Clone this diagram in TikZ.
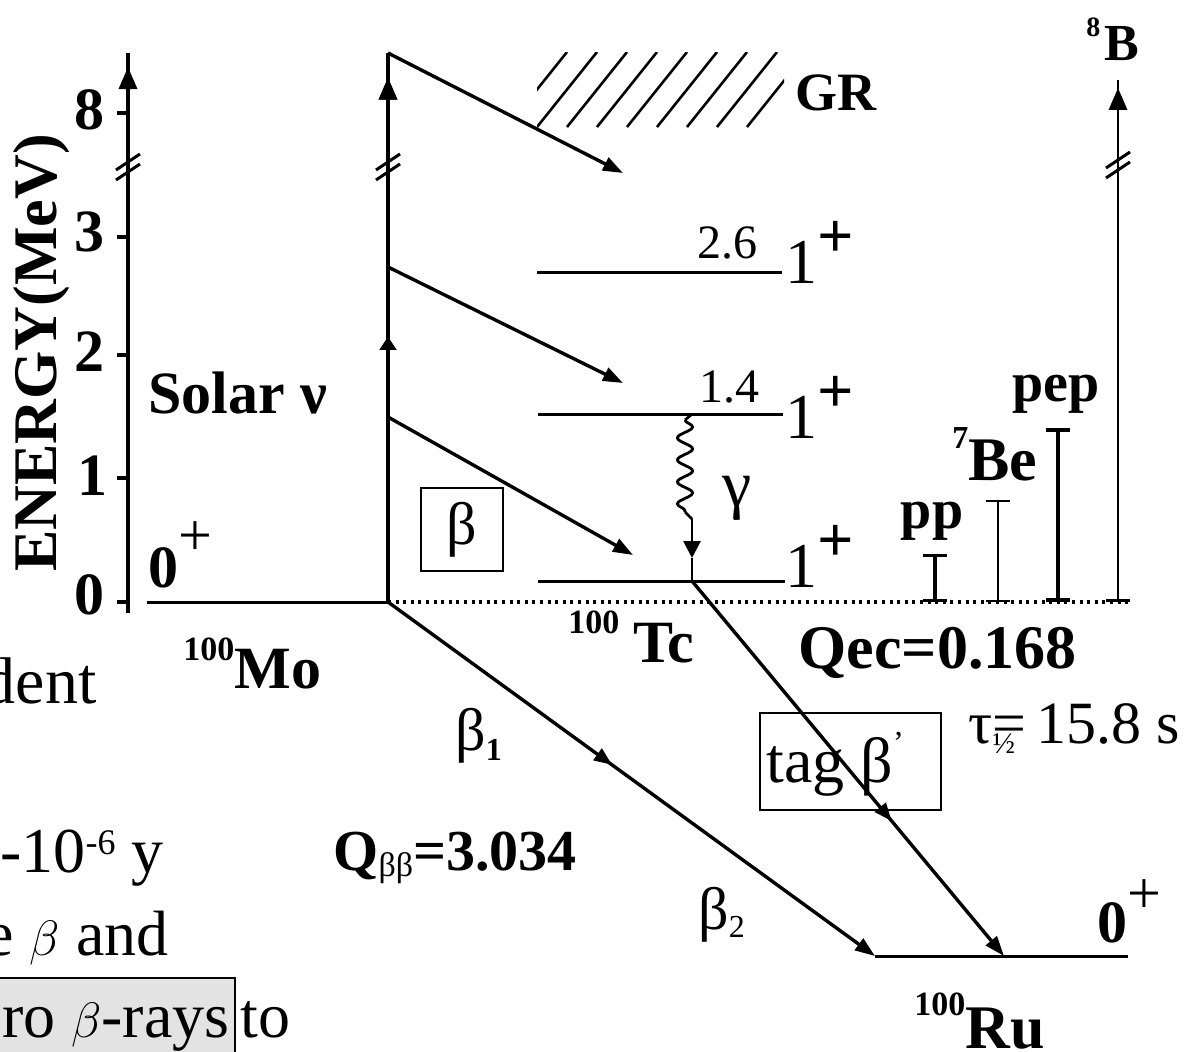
\documentclass[tikz,border=0pt]{standalone}
\usepackage{fontspec}
\setmainfont{Liberation Serif}
\usetikzlibrary{arrows.meta,decorations.markings,decorations.pathmorphing}
\newcommand{\myfs}[1]{\fontsize{#1}{#1}\selectfont}
\begin{document}
\begin{tikzpicture}[x=0.5pt,y=-0.5pt,
  axisln/.style={line width=1.7pt},
  lvl/.style={line width=1.5pt},
  dline/.style={line width=1.7pt},
  dtip/.style={-{Triangle[length=10pt,width=7pt]}},
  midarrow/.style={postaction={decorate},decoration={markings,mark=at position #1 with {\arrow{Triangle[length=9pt,width=7pt]}}}},
  uparrow/.style={postaction={decorate},decoration={markings,mark=at position #1 with {\arrow{Triangle[length=11pt,width=9pt]}}}},
  smallup/.style={postaction={decorate},decoration={markings,mark=at position #1 with {\arrow{Triangle[length=6.5pt,width=8pt]}}}},
  brk/.style={line width=1.5pt},
  bar/.style={{Bar[width=12pt]}-{Bar[width=12pt]}},
  bf/.style={inner sep=0pt,font=\myfs{30}\bfseries},
  rm/.style={inner sep=0pt,font=\myfs{30}},
  boxed/.style={draw,line width=0.9pt,inner sep=0pt}
]
\useasboundingbox (0,0) rectangle (1198,1051);
\clip (0,0) rectangle (1198,1051);

% ---------- coordinates ----------
\coordinate (axB) at (128,613);  \coordinate (axT) at (128,53);
\coordinate (mvB) at (388,602);  \coordinate (mvT) at (388,53);
\coordinate (mo0) at (147,602);  \coordinate (dotE) at (1132,602);
\coordinate (gre) at (623,173);
\coordinate (a2s) at (388,267);  \coordinate (a2e) at (623,383);
\coordinate (a3s) at (388,417);  \coordinate (a3e) at (633,555);
\coordinate (t26L) at (537,272); \coordinate (t26R) at (782,272);
\coordinate (t14L) at (538,414); \coordinate (t14R) at (783,414);
\coordinate (t0L) at (538,581);  \coordinate (t0R) at (785,581);
\coordinate (g1) at (692,414);   \coordinate (g0) at (692,581);
\coordinate (g1w) at (685,420);  \coordinate (g2w) at (685,512);
\coordinate (g2) at (692,519);   \coordinate (g3) at (692,558);
\coordinate (ruL) at (875,956);  \coordinate (ruR) at (1128,956);
\coordinate (tcru) at (1004,956);
\coordinate (ppB) at (935,602);  \coordinate (ppT) at (935,554);
\coordinate (beB) at (998,602);  \coordinate (beT) at (998,500);
\coordinate (pepB) at (1058,602);\coordinate (pepT) at (1058,428);
\coordinate (bB) at (1118,602);  \coordinate (bT) at (1118,80);

% ---------- GR hatching ----------
\begin{scope}
  \clip (537,52) rectangle (784,127);
  \foreach \k in {-1,...,7}
    \draw[line width=1.3pt] ({537+30*\k},127) -- ({597+30*\k},52);
\end{scope}

% ---------- left axis ----------
\draw[axisln,uparrow=0.975] (axB) -- (axT);
\foreach \yy in {113,237,355,478,602}
  \draw[axisln] (117,\yy) -- (128,\yy);
\foreach \xx/\yy in {128/167,388/167,1118/165}{
  \draw[brk] (\xx-12,\yy+3) -- (\xx+12,\yy-13);
  \draw[brk] (\xx-12,\yy+13) -- (\xx+12,\yy-3);
}

% ---------- main vertical ----------
\draw[axisln,smallup=0.483,uparrow=0.955] (mvB) -- (mvT);
\draw[lvl] (mo0) -- (mvB);
\draw[line width=1.6pt,dash pattern=on 1.5pt off 2.3pt] (mvB) -- (dotE);

% ---------- beta arrows to Tc ----------
\draw[dline,dtip] (mvT) -- (gre);
\draw[dline,dtip] (a2s) -- (a2e);
\draw[dline,dtip] (a3s) -- (a3e);

% ---------- Tc levels ----------
\draw[lvl] (t26L) -- (t26R);
\draw[lvl] (t14L) -- (t14R);
\draw[lvl] (t0L) -- (t0R);

% gamma
\draw[line width=1.4pt] (g1) -- (g1w);
\draw[line width=1.4pt,decorate,decoration={snake,amplitude=3.8pt,segment length=11pt}] (g1w) -- (g2w);
\draw[line width=1.4pt] (g2w) -- (g2);
\draw[line width=1.4pt,-{Triangle[length=8.5pt,width=8.5pt]}] (g2) -- (g3);
\draw[line width=1.4pt] (g3) -- (g0);

% ---------- to Ru ----------
\draw[dline,midarrow=0.46,dtip] (mvB) -- (ruL);
\draw[dline,midarrow=0.64,dtip] (g0) -- (tcru);
\draw[lvl] (ruL) -- (ruR);

% ---------- solar neutrino bars ----------
\draw[line width=1.7pt,bar] (ppB) -- (ppT);
\draw[line width=1.2pt,bar] (beB) -- (beT);
\draw[line width=1.9pt,bar] (pepB) -- (pepT);
\draw[line width=1.4pt,{Bar[width=12pt]}-,uparrow=0.985] (bB) -- (bT);

% ---------- boxes ----------
\node[boxed,minimum width=41pt,minimum height=41.5pt,font=\myfs{30}] (bbox) at (462,529.5) {β};
\node[boxed,minimum width=90.5pt,minimum height=48.5pt] (tagbox) at (850.5,761.5) {};
\node[anchor=base west,inner sep=0pt,font=\myfs{32}] (tagt) at (766,782) {tag β\raisebox{0.45em}{\myfs{16}’}};

% ---------- axis labels ----------
\node[bf,rotate=90,font=\myfs{31}\bfseries] (energy) at (42,353) {ENERGY(MeV)};
\node[bf] (n8) at (89,110) {8};
\node[bf] (n3) at (89,232) {3};
\node[bf] (n2) at (89,352) {2};
\node[bf] (n1) at (92,476) {1};
\node[bf] (n0) at (89,595) {0};

% ---------- Mo ----------
\node[bf,anchor=base west] (mospin) at (148,587) {0\raisebox{0.52em}{\mdseries +}};
\node[anchor=base west,inner sep=0pt] (mo) at (183,688) {{\myfs{17}\bfseries\raisebox{14pt}{100}}{\myfs{30}\bfseries Mo}};
\node[bf,anchor=base west] (solar) at (148,413) {Solar ν};

% ---------- Tc ----------
\node[inner sep=0pt,font=\myfs{24}] (e26) at (727,243) {2.6};
\node[inner sep=0pt,font=\myfs{24}] (e14) at (729,387) {1.4};
\node[anchor=base west,inner sep=0pt,font=\myfs{32}] (j26) at (785,283) {1\raisebox{0.4em}{\bfseries +}};
\node[anchor=base west,inner sep=0pt,font=\myfs{32}] (j14) at (785,438) {1\raisebox{0.4em}{\bfseries +}};
\node[anchor=base west,inner sep=0pt,font=\myfs{32}] (j0) at (785,587) {1\raisebox{0.4em}{\bfseries +}};
\node[inner sep=0pt,font=\myfs{33}] (gam) at (737,498) {γ};
\node[anchor=base west,inner sep=0pt] (tc) at (568,662) {{\myfs{17}\bfseries\raisebox{14.5pt}{100}}\hspace{7pt}{\myfs{30}\bfseries Tc}};
\node[anchor=base west,inner sep=0pt,font=\myfs{31}\bfseries] (qec) at (798,668) {Qec=0.168};
\node[anchor=base west,inner sep=0pt,font=\myfs{30}] (tau) at (968,743) {τ\rlap{\raisebox{-5pt}{\myfs{15}½}}=\,15.8 s};

% ---------- GR ----------
\node[anchor=base west,inner sep=0pt,font=\myfs{27}\bfseries] (gr) at (795,110) {GR};

% ---------- beta labels ----------
\node[anchor=base west,inner sep=0pt] (b1) at (455,750) {{\myfs{30}β}{\myfs{16}\bfseries\raisebox{-5pt}{1}}};
\node[anchor=base west,inner sep=0pt] (b2) at (698,929) {{\myfs{30}β}{\myfs{16}\raisebox{-4pt}{2}}};
\node[anchor=base west,inner sep=0pt] (qbb) at (333,870) {{\myfs{29}\bfseries Q}{\myfs{17}\raisebox{-3pt}{ββ}}{\myfs{29}\bfseries =3.034}};

% ---------- Ru ----------
\node[anchor=base west,inner sep=0pt] (ru) at (914,1048) {{\myfs{17}\bfseries\raisebox{16.5pt}{100}}{\myfs{31}\bfseries Ru}};
\node[anchor=base west,inner sep=0pt,font=\myfs{30}\bfseries] (ruspin) at (1097,942) {0\raisebox{0.47em}{\mdseries +}};

% ---------- solar labels ----------
\node[inner sep=0pt,font=\myfs{28}\bfseries] (pp) at (932,521) {pp};
\node[anchor=base west,inner sep=0pt] (be) at (952,480) {{\myfs{16}\bfseries\raisebox{16pt}{7}}{\myfs{31}\bfseries Be}};
\node[inner sep=0pt,font=\myfs{28}\bfseries] (pep) at (1056,394) {pep};
\node[anchor=base west,inner sep=0pt] (b8) at (1086,60) {{\myfs{14}\bfseries\raisebox{12pt}{8}}\hspace{2pt}{\myfs{26}\bfseries B}};

% ---------- cut-off text at left ----------
\node[anchor=base east,inner sep=0pt,font=\myfs{33}] (txa) at (97,703) {dent};
\node[anchor=base west,inner sep=0pt,font=\myfs{32}] (txb) at (0,872) {-10\raisebox{9pt}{\myfs{18}-6} y};
\node[anchor=base west,inner sep=0pt,font=\myfs{32}] (txc) at (-15,955) {e $\beta$ and};
\path[draw,line width=1.2pt,fill=gray!22] (-10,978) rectangle (235,1070);
\node[anchor=base east,inner sep=0pt,font=\myfs{32}] (txd) at (230,1037) {ro $\beta$-rays};
\node[anchor=base west,inner sep=0pt,font=\myfs{32}] (txe) at (240,1037) {to};
\end{tikzpicture}
\end{document}
